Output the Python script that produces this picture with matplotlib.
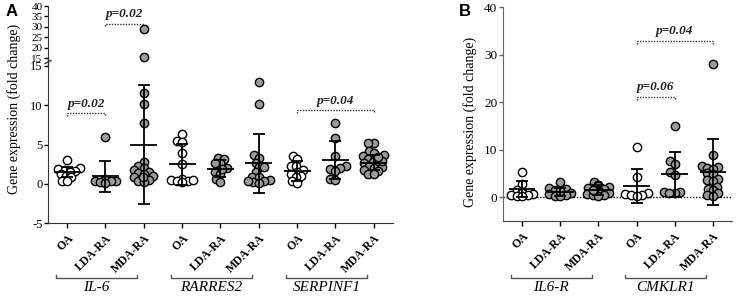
import numpy as np
import matplotlib
matplotlib.use("Agg")
import matplotlib.pyplot as plt
from matplotlib.transforms import blended_transform_factory

plt.rcParams['font.family'] = ['Liberation Serif', 'DejaVu Serif']
plt.rcParams['axes.unicode_minus'] = False

groups = ["OA", "LDA-RA", "MDA-RA"]
genes_a = ["IL-6", "RARRES2", "SERPINF1"]
genes_b = ["IL6-R", "CMKLR1"]

# Panel A values (fold change)
il6_oa = [3.0, 2.0, 1.9, 1.8, 1.6, 1.5, 1.3, 1.0, 0.8, 0.4, 0.3]
il6_lda = [6.0, 0.6, 0.5, 0.4, 0.3, 0.2, 0.3, 0.1]
il6_mda = [29.0, 15.5, 11.5, 10.2, 7.7, 2.8, 2.2, 2.0, 1.8, 1.5, 1.4, 1.2,
           1.0, 0.8, 0.5, 0.3, 0.2, 0.9]
rarres2_oa = [6.4, 5.5, 5.3, 3.9, 2.5, 0.6, 0.5, 0.4, 0.3, 0.5, 0.2]
rarres2_lda = [3.3, 3.2, 2.6, 2.6, 2.0, 1.5, 1.2, 0.6, 0.2, 1.9]
rarres2_mda = [13.0, 10.1, 3.6, 3.3, 2.7, 2.1, 2.1, 1.5, 0.9, 0.9, 0.5,
               0.3, 0.2, 0.1, 0.4]
serpinf1_oa = [3.5, 3.1, 2.3, 2.2, 1.7, 1.5, 1.2, 1.0, 0.8, 0.3, 0.1]
serpinf1_lda = [7.8, 5.8, 3.5, 2.2, 1.9, 2.0, 1.6, 0.6, 0.5]
serpinf1_mda = [5.2, 5.2, 4.2, 3.9, 3.6, 3.5, 3.2, 3.0, 2.8, 2.6, 2.5, 2.3,
                2.1, 2.0, 1.8, 1.6, 1.3, 1.2, 2.9, 3.4]
means_a = [1.5, 0.95, 5.0, 2.5, 1.9, 2.6, 1.6, 3.0, 2.7]
sds_a = [0.6, 1.95, 7.6, 2.6, 1.1, 3.8, 1.3, 2.4, 1.0]

# Panel B values
il6r_oa = [5.3, 2.8, 1.6, 1.2, 0.9, 0.6, 0.5, 0.4, 0.3, 0.2]
il6r_lda = [3.3, 1.9, 1.7, 1.5, 1.4, 1.2, 1.1, 1.0, 0.9, 0.8, 0.6, 0.5,
            0.3, 0.2, 1.3]
il6r_mda = [3.3, 2.6, 2.5, 2.4, 2.3, 2.2, 2.0, 1.8, 1.5, 1.3, 1.1, 0.9,
            0.7, 0.5, 0.4, 0.3, 1.6]
cmklr1_oa = [10.6, 4.3, 0.8, 0.6, 0.5, 0.4, 0.3]
cmklr1_lda = [15.0, 7.6, 7.0, 5.3, 4.6, 1.2, 1.0, 0.8, 0.9]
cmklr1_mda = [28.0, 8.8, 6.5, 6.3, 6.2, 6.0, 5.0, 4.8, 3.8, 3.6, 3.5, 2.2,
              1.8, 1.5, 0.9, 0.5, 0.3]
means_b = [1.7, 1.1, 1.5, 2.3, 4.8, 5.3]
sds_b = [1.7, 0.8, 1.0, 3.6, 4.7, 6.9]

data_a = [il6_oa, il6_lda, il6_mda, rarres2_oa, rarres2_lda, rarres2_mda,
          serpinf1_oa, serpinf1_lda, serpinf1_mda]
data_b = [il6r_oa, il6r_lda, il6r_mda, cmklr1_oa, cmklr1_lda, cmklr1_mda]

# significance brackets: (x start, x end, y, text)
sig_a_low = [(0, 1, 9.0, "p=0.02"), (6, 8, 9.4, "p=0.04")]
sig_a_high = [(1, 2, 31.5, "p=0.02")]
sig_b = [(3, 4, 21.1, "p=0.06"), (3, 5, 32.9, "p=0.04")]

GRAY = "#9b9b9b"
W, H = 736, 297


def swarm(vals, xs, ys, d, wmax):
    """simple beeswarm: x offsets (data units) so markers overlap little"""
    py = np.asarray(vals, float) * ys
    placed = []
    out = np.zeros(len(py))
    for i in np.argsort(py):
        cands = [0.0]
        for px, qy in placed:
            dy = py[i] - qy
            if abs(dy) < d:
                dx = np.sqrt(d * d - dy * dy)
                cands += [px - dx, px + dx]
        cands = [c for c in cands if abs(c) <= wmax] or [0.0]
        cands.sort(key=abs)
        best = cands[0]
        for c in cands:
            if all((c - px) ** 2 + (py[i] - qy) ** 2 >= d * d - 1e-6 for px, qy in placed):
                best = c
                break
        out[i] = best
        placed.append((best, py[i]))
    return out / xs


def draw_group(axes_list, x, vals, mean, sd, face, xs, ys):
    vals = np.asarray(vals)
    off = swarm(vals, xs, ys, 5.6, 13)
    for ax, lo, hi in axes_list:
        m = (vals >= lo) & (vals <= hi)
        ax.scatter(x + off[m], vals[m], s=36, facecolor=face, edgecolor="black",
                   linewidth=1.0, zorder=3, clip_on=False)
    ax0 = axes_list[-1][0]
    ax0.errorbar(x, mean, yerr=sd, fmt="none", ecolor="black", elinewidth=1.3,
                 capsize=4.3, capthick=1.3, zorder=4)
    ax0.hlines(mean, x - 0.35, x + 0.35, color="black", lw=1.3, zorder=4)


def bracket(ax, x0, x1, y, txt, dy, tdy):
    ax.plot([x0, x0, x1, x1], [y - dy, y, y, y - dy], color="#333333",
            lw=1.0, ls=(0, (1, 1)), clip_on=False, zorder=2)
    ax.text((x0 + x1) / 2, y + tdy, txt, ha="center", va="bottom",
            fontsize=9.5, style="italic", fontweight="bold", color="#222222")


def group_labels(fig, ax, genes):
    tr = blended_transform_factory(ax.transData, fig.transFigure)
    for g, name in enumerate(genes):
        x0, x1 = 3 * g - 0.3, 3 * g + 1.83
        ax.plot([x0, x0, x1, x1], [0.075, 0.063, 0.063, 0.075], transform=tr,
                color="#555555", lw=1.0, clip_on=False)
        ax.text((x0 + x1) / 2, 0.033, name, transform=tr, ha="center",
                va="center", fontsize=11, style="italic")


def style_xaxis(ax, n):
    ax.set_xlim(-0.5, n - 0.5)
    ax.set_xticks(range(n))
    ax.set_xticklabels(groups * (n // 3), rotation=45, ha="right",
                       rotation_mode="anchor", fontsize=8.5, fontweight="bold")
    ax.tick_params(axis="x", length=3.5, width=1.0, pad=3)


fig = plt.figure(figsize=(W / 100, H / 100), dpi=100)

# ---- Panel A (broken y axis) ----
axl = fig.add_axes([48 / W, 1 - 223 / H, 345 / W, 157 / H])
axu = fig.add_axes([48 / W, 1 - 58 / H, 345 / W, 52 / H])
for ax in (axl, axu):
    for s in ("top", "right"):
        ax.spines[s].set_visible(False)
    ax.spines["left"].set_color("#333333")
    ax.spines["bottom"].set_color("#333333")
    ax.tick_params(axis="y", length=3, width=1.0, pad=1, labelsize=9)
axu.spines["bottom"].set_visible(False)
axu.set_xticks([])
axu.set_xlim(-0.5, 8.5)
axl.set_ylim(-5, 15)
axl.set_yticks([-5, 0, 5, 10, 15])
axu.set_ylim(15, 40)
axu.set_yticks([15, 20, 25, 30, 35, 40])
axu.tick_params(axis="y", labelsize=8)
style_xaxis(axl, 9)

for i, vals in enumerate(data_a):
    face = "white" if i % 3 == 0 else GRAY
    draw_group([(axu, 15.2, 100), (axl, -5, 15.2)], i, vals, means_a[i],
               sds_a[i], face, 38.3, 7.85)
for x0, x1, y, t in sig_a_low:
    bracket(axl, x0, x1, y, t, 0.35, 0.4)
for x0, x1, y, t in sig_a_high:
    bracket(axu, x0, x1, y, t, 1.3, 2.0)
group_labels(fig, axl, genes_a)

# break mark on the y axis
fig.add_artist(plt.Line2D([48 / W, 48 / W], [1 - 66 / H, 1 - 58 / H],
                          color="#333333", lw=1.0))
fig.add_artist(plt.Line2D([45 / W, 51 / W], [1 - 63.5 / H, 1 - 60.5 / H],
                          color="#333333", lw=1.0))

fig.text(14 / W, 1 - 109 / H, "Gene expression (fold change)", rotation=90,
         ha="center", va="center", fontsize=10)
fig.text(6 / W, 1 - 12 / H, "A", fontsize=12, fontweight="bold",
         family="Liberation Sans", va="center", ha="left")

# ---- Panel B ----
axb = fig.add_axes([503 / W, 1 - 221 / H, 229 / W, 214 / H])
for s in ("top", "right"):
    axb.spines[s].set_visible(False)
axb.spines["left"].set_color("#666666")
axb.spines["bottom"].set_color("#444444")
axb.set_ylim(-5, 40)
axb.set_yticks([0, 10, 20, 30, 40])
axb.tick_params(axis="y", length=3, width=1.0, pad=1, labelsize=9.5,
                color="#666666")
style_xaxis(axb, 6)
axb.axhline(0, color="black", lw=1.0, ls=(0, (1, 1.2)), zorder=1)

for i, vals in enumerate(data_b):
    face = "white" if i % 3 == 0 else GRAY
    draw_group([(axb, -5, 100)], i, vals, means_b[i], sds_b[i], face,
               38.2, 4.75)
for x0, x1, y, t in sig_b:
    bracket(axb, x0, x1, y, t, 0.6, 0.8)
group_labels(fig, axb, genes_b)

fig.text(470 / W, 1 - 122 / H, "Gene expression (fold change)", rotation=90,
         ha="center", va="center", fontsize=10)
fig.text(459 / W, 1 - 12 / H, "B", fontsize=12, fontweight="bold",
         family="Liberation Sans", va="center", ha="left")

fig.savefig("out.png", dpi=100)
